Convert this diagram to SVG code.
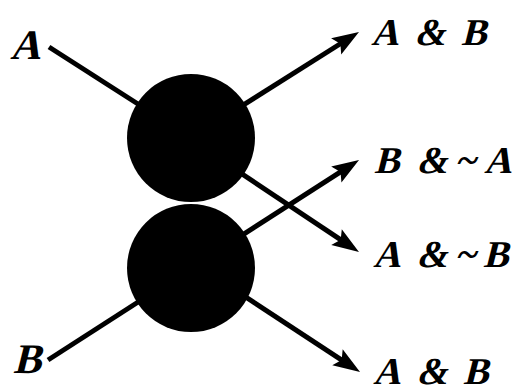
<svg xmlns="http://www.w3.org/2000/svg" width="517" height="389" viewBox="0 0 517 389">
<style>
  .lbl { font-family: 'Liberation Serif', 'Times New Roman', 'DejaVu Serif', serif; font-weight: bold; fill: #000; }
  .in { font-size: 42px; }
  .out { font-size: 38px; }
  .wire { stroke: #000; stroke-width: 5; fill: none; }
  .node { fill: #000; }
</style>
<defs>
  <marker id="arr" markerUnits="userSpaceOnUse" viewBox="-15 -11 32 22" refX="0" refY="0" markerWidth="32" markerHeight="22" orient="auto" overflow="visible">
    <path d="M15,0 L-12,-9.5 L-7,0 L-12,9.5 Z" fill="#000"/>
  </marker>
</defs>
<rect width="517" height="389" fill="#fff"/>
<g id="connectors">
  <line class="wire" x1="49" y1="47" x2="191" y2="138"/>
  <line class="wire" x1="48" y1="360" x2="191" y2="268"/>
  <line class="wire" x1="191" y1="138" x2="346.3" y2="40" marker-end="url(#arr)"/>
  <line class="wire" x1="191" y1="140" x2="346.5" y2="243.7" marker-end="url(#arr)"/>
  <line class="wire" x1="191" y1="268" x2="346.4" y2="168.1" marker-end="url(#arr)"/>
  <line class="wire" x1="200" y1="267" x2="347.5" y2="363.8" marker-end="url(#arr)"/>
</g>
<g id="node-top"><circle class="node" cx="191" cy="138" r="64"/></g>
<g id="node-bottom"><circle class="node" cx="191" cy="268" r="64"/></g>
<g id="label-A" transform="translate(10,59) skewX(-14)"><text class="lbl in" x="0" y="0">A</text></g>
<g id="label-B" transform="translate(13,373) skewX(-14)"><text class="lbl in" x="0" y="0">B</text></g>
<g id="out1" transform="translate(371,45) skewX(-14)"><text class="lbl out" y="0"><tspan x="0">A</tspan> <tspan x="43">&amp;</tspan> <tspan x="90">B</tspan></text></g>
<g id="out2" transform="translate(374,173) skewX(-14)"><text class="lbl out" y="0"><tspan x="0">B</tspan> <tspan x="42">&amp;</tspan> <tspan x="81">~</tspan><tspan x="110">A</tspan></text></g>
<g id="out3" transform="translate(373,267) skewX(-14)"><text class="lbl out" y="0"><tspan x="0">A</tspan> <tspan x="43">&amp;</tspan> <tspan x="82">~</tspan><tspan x="110">B</tspan></text></g>
<g id="out4" transform="translate(373,384) skewX(-14)"><text class="lbl out" y="0"><tspan x="0">A</tspan> <tspan x="43">&amp;</tspan> <tspan x="90">B</tspan></text></g>
</svg>
